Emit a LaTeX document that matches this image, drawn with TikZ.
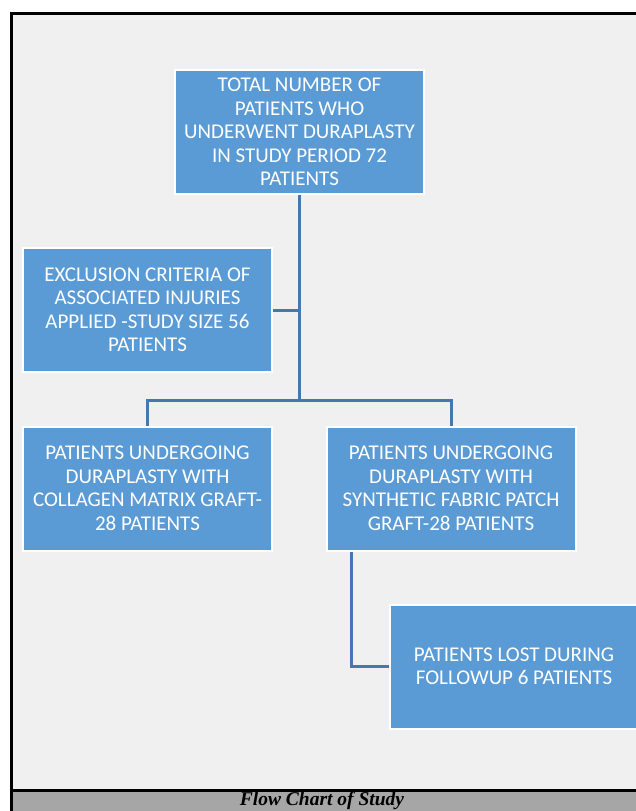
\documentclass[tikz,border=0pt]{standalone}
\usepackage{fontspec}
\setmainfont{Carlito}
\newfontfamily\captionfont{Liberation Serif}
\usepackage{tikz}
\usetikzlibrary{positioning,calc}
\definecolor{fcblue}{HTML}{5B9BD5}
\definecolor{fcline}{HTML}{4677AE}
\definecolor{fcback}{HTML}{F0F0F0}
\definecolor{fcbar}{HTML}{A6A6A6}
\tikzset{
  flowBox/.style={draw=white, line width=2pt, fill=fcblue, text=white, align=center, minimum width=249pt, minimum height=124pt, inner sep=3pt, font=\fontsize{21}{23.5}\selectfont},
  linkLine/.style={draw=fcline, line width=3pt},
  frameLine/.style={draw=black, line width=3pt}
}
\begin{document}
\begin{tikzpicture}[x=1pt,y=-1pt]
  \useasboundingbox[fill=white] (0,0) rectangle (635,811);
  \fill[fcback] (11,13) rectangle (645,790);
  \fill[fcbar] (11,790) rectangle (645,815);
  \draw[frameLine] (645,13) -- (11,13) -- (11,815);
  \draw[frameLine] (11,790) -- (645,790);
  \node[font=\captionfont\bfseries\itshape\fontsize{19.5}{22}\selectfont] (caption) at (322,800.5) {Flow Chart of Study};

  \node[flowBox] (total) at (299.5,132) {TOTAL NUMBER OF\\ PATIENTS WHO\\ UNDERWENT DURAPLASTY\\ IN STUDY PERIOD 72\\ PATIENTS};
  \node[flowBox] (excl) at (147.5,310) {EXCLUSION CRITERIA OF\\ ASSOCIATED INJURIES\\ APPLIED -STUDY SIZE 56\\ PATIENTS};
  \node[flowBox] (collagen) at (147.5,488.5) {PATIENTS UNDERGOING\\ DURAPLASTY WITH\\ COLLAGEN MATRIX GRAFT-\\ 28 PATIENTS};
  \node[flowBox] (synthetic) at (451,488.5) {PATIENTS UNDERGOING\\ DURAPLASTY WITH\\ SYNTHETIC FABRIC PATCH\\ GRAFT-28 PATIENTS};
  \node[flowBox] (lost) at (514,666.5) {PATIENTS LOST DURING\\ FOLLOWUP 6 PATIENTS};
  \coordinate (split) at (299.5,400);

  \draw[linkLine] (total.south) -- (split);
  \draw[linkLine] (excl.east) -- (excl.east -| split);
  \draw[linkLine] (collagen.north) |- (split) -| (synthetic.north);
  \draw[linkLine] ([xshift=-100pt]synthetic.south) |- (lost.west);
\end{tikzpicture}
\end{document}
